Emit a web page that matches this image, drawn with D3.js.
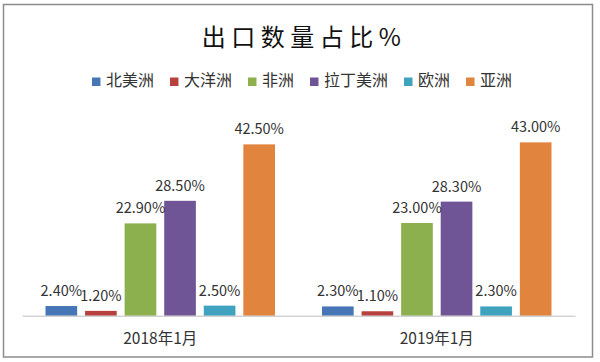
<!DOCTYPE html>
<html>
<head>
<meta charset="utf-8">
<script src="https://cdn.jsdelivr.net/npm/d3@7"></script>
<style>
  body { margin: 0; background: #fff; }
  text { font-family: "Noto Sans CJK SC", "Noto Sans", sans-serif; fill: #222; }
</style>
</head>
<body>
<div id="chart"></div>
<script>
// data
const periods = ['2018年1月', '2019年1月'];
const regions = ['北美洲', '大洋洲', '非洲', '拉丁美洲', '欧洲', '亚洲'];
const colors = ['#4676b5', '#b8413e', '#8db04f', '#6f5496', '#3fa2bf', '#e0843e'];
const values2018 = [2.4, 1.2, 22.9, 28.5, 2.5, 42.5];
const values2019 = [2.3, 1.1, 23.0, 28.3, 2.3, 43.0];
const seriesValues = [values2018, values2019];

const width = 600, height = 362;

const svg = d3.select('#chart').append('svg')
  .attr('width', width)
  .attr('height', height);

svg.append('rect')
  .attr('width', width).attr('height', height)
  .attr('fill', '#fff');

// outer frame
svg.append('rect')
  .attr('x', 3.5).attr('y', 4.5)
  .attr('width', 589).attr('height', 352.5)
  .attr('fill', 'none')
  .attr('stroke', '#8c8c8c')
  .attr('stroke-width', 1.5);

// title
svg.append('text')
  .attr('x', 304).attr('y', 46)
  .attr('text-anchor', 'middle')
  .style('font-size', '24px')
  .style('letter-spacing', '5.5px')
  .style('fill', '#111')
  .text('出口数量占比%');

// legend
const legend = svg.append('g');
let lx = 0;
regions.forEach((r, i) => {
  const item = legend.append('g').attr('transform', `translate(${lx},0)`);
  item.append('rect')
    .attr('x', 0).attr('y', 77.5)
    .attr('width', 8.5).attr('height', 8.5)
    .attr('fill', colors[i]);
  const t = item.append('text')
    .attr('x', 14).attr('y', 86)
    .style('font-size', '16px')
    .style('fill', '#333')
    .text(r);
  lx += 14 + t.node().getComputedTextLength() + 16;
});
lx -= 16;
legend.attr('transform', `translate(${302 - lx / 2},0)`);

// scales
const x0 = d3.scaleBand().domain(periods).range([22, 575]);
const inner = d3.scaleBand().domain(regions)
  .range([23.5, x0.bandwidth() - 23.5])
  .paddingInner(0.2);
const y = d3.scaleLinear().domain([0, 45]).range([315.7, 134.3]);

const groups = svg.selectAll('g.period')
  .data(periods)
  .join('g')
  .attr('class', 'period')
  .attr('transform', d => `translate(${x0(d)},0)`);

groups.selectAll('rect.bar')
  .data((d, i) => regions.map((r, j) => ({ r, v: seriesValues[i][j], c: colors[j] })))
  .join('rect')
  .attr('class', 'bar')
  .attr('x', d => inner(d.r))
  .attr('y', d => y(d.v))
  .attr('width', inner.bandwidth())
  .attr('height', d => y(0) - y(d.v))
  .attr('fill', d => d.c);

groups.selectAll('text.val')
  .data((d, i) => regions.map((r, j) => ({ r, v: seriesValues[i][j] })))
  .join('text')
  .attr('class', 'val')
  .attr('x', d => inner(d.r) + inner.bandwidth() / 2)
  .attr('y', d => y(d.v) - 10)
  .attr('text-anchor', 'middle')
  .style('font-size', '14.5px')
  .style('fill', '#333')
  .text(d => d.v.toFixed(2) + '%');

// axis
const axis = svg.append('g')
  .attr('transform', `translate(0,${y(0)})`)
  .call(d3.axisBottom(x0).tickSize(0).tickPadding(17));
axis.select('.domain').attr('stroke', '#bdbdbd');
axis.selectAll('.tick text')
  .style('font-size', '15.5px')
  .style('fill', '#333')
  .style('font-family', '"Noto Sans CJK SC", sans-serif');
</script>
</body>
</html>
